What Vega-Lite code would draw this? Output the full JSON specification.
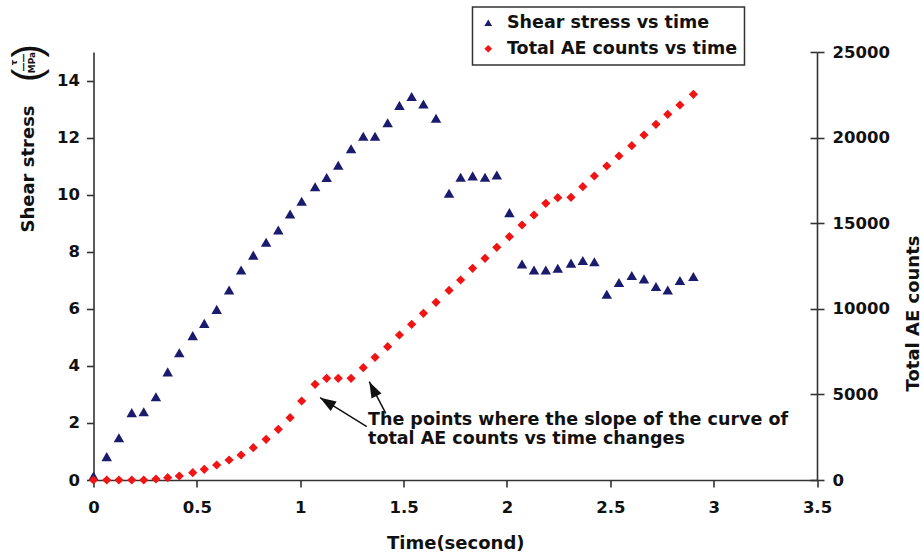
{
  "$schema": "https://vega.github.io/schema/vega-lite/v6.json",
  "width": 723.5,
  "height": 428,
  "autosize": {"type": "none"},
  "padding": {"left": 93.5, "top": 52, "right": 105, "bottom": 78},
  "background": "white",
  "config": {
    "view": {"stroke": null},
    "font": "DejaVu Sans",
    "axis": {
      "grid": false,
      "domainColor": "#333333",
      "domainWidth": 1.6,
      "tickColor": "#333333",
      "tickWidth": 1.6,
      "tickSize": 7,
      "labelFont": "DejaVu Sans",
      "labelFontWeight": "bold",
      "labelFontSize": 16.5,
      "labelColor": "#111111",
      "labelFlush": false,
      "labelOverlap": false,
      "titleFont": "DejaVu Sans",
      "titleFontWeight": "bold",
      "titleFontSize": 18,
      "titleColor": "#111111"
    },
    "legend": {
      "orient": "none",
      "legendX": 379,
      "legendY": -45,
      "strokeColor": "#333333",
      "strokeWidth": 1.5,
      "fillColor": "white",
      "padding": 7,
      "rowPadding": 7,
      "labelFont": "DejaVu Sans",
      "labelFontWeight": "bold",
      "labelFontSize": 17.5,
      "labelColor": "#111111",
      "labelLimit": 0,
      "labelOffset": 10,
      "symbolSize": 60,
      "symbolStrokeWidth": 0
    }
  },
  "datasets": {
    "series": [
      {"t": 0.0, "stress": 0.14, "ae": 0},
      {"t": 0.064, "stress": 0.82, "ae": 0},
      {"t": 0.123, "stress": 1.48, "ae": 0},
      {"t": 0.185, "stress": 2.36, "ae": 0},
      {"t": 0.243, "stress": 2.39, "ae": 0},
      {"t": 0.302, "stress": 2.92, "ae": 58},
      {"t": 0.359, "stress": 3.79, "ae": 136},
      {"t": 0.415, "stress": 4.46, "ae": 234},
      {"t": 0.48, "stress": 5.06, "ae": 428},
      {"t": 0.536, "stress": 5.49, "ae": 623},
      {"t": 0.596, "stress": 5.98, "ae": 876},
      {"t": 0.656, "stress": 6.66, "ae": 1168},
      {"t": 0.714, "stress": 7.36, "ae": 1460},
      {"t": 0.773, "stress": 7.88, "ae": 1889},
      {"t": 0.835, "stress": 8.33, "ae": 2375},
      {"t": 0.894, "stress": 8.76, "ae": 2959},
      {"t": 0.951, "stress": 9.32, "ae": 3641},
      {"t": 1.007, "stress": 9.77, "ae": 4614},
      {"t": 1.072, "stress": 10.28, "ae": 5588},
      {"t": 1.128, "stress": 10.6, "ae": 5938},
      {"t": 1.184, "stress": 11.03, "ae": 5938},
      {"t": 1.246, "stress": 11.61, "ae": 5938},
      {"t": 1.305, "stress": 12.05, "ae": 6561},
      {"t": 1.362, "stress": 12.05, "ae": 7167},
      {"t": 1.423, "stress": 12.52, "ae": 7787},
      {"t": 1.48, "stress": 13.13, "ae": 8470},
      {"t": 1.539, "stress": 13.44, "ae": 9092},
      {"t": 1.596, "stress": 13.18, "ae": 9734},
      {"t": 1.657, "stress": 12.68, "ae": 10380},
      {"t": 1.72, "stress": 10.05, "ae": 11070},
      {"t": 1.776, "stress": 10.61, "ae": 11682},
      {"t": 1.834, "stress": 10.66, "ae": 12365},
      {"t": 1.894, "stress": 10.61, "ae": 12949},
      {"t": 1.951, "stress": 10.69, "ae": 13592},
      {"t": 2.012, "stress": 9.37, "ae": 14212},
      {"t": 2.073, "stress": 7.57, "ae": 14895},
      {"t": 2.131, "stress": 7.36, "ae": 15479},
      {"t": 2.188, "stress": 7.36, "ae": 16162},
      {"t": 2.246, "stress": 7.42, "ae": 16490},
      {"t": 2.31, "stress": 7.6, "ae": 16513},
      {"t": 2.367, "stress": 7.69, "ae": 17132},
      {"t": 2.423, "stress": 7.65, "ae": 17757},
      {"t": 2.483, "stress": 6.51, "ae": 18341},
      {"t": 2.542, "stress": 6.92, "ae": 18925},
      {"t": 2.604, "stress": 7.17, "ae": 19527},
      {"t": 2.663, "stress": 7.05, "ae": 20151},
      {"t": 2.721, "stress": 6.78, "ae": 20777},
      {"t": 2.778, "stress": 6.66, "ae": 21361},
      {"t": 2.837, "stress": 6.99, "ae": 21904},
      {"t": 2.902, "stress": 7.13, "ae": 22529}
    ],
    "arrows": [
      {"id": 1, "t": 1.322, "ae": 3113, "t2": 1.096, "ae2": 4807},
      {"id": 2, "t": 1.414, "ae": 3896, "t2": 1.334, "ae2": 5742}
    ],
    "note": [
      {"t": 1.328, "ae": 3213, "label": ["The points where the slope of the curve of", "total AE counts vs time changes"]}
    ]
  },
  "layer": [
    {
      "data": {"name": "series"},
      "mark": {"type": "point", "filled": true, "opacity": 1, "size": 110, "strokeWidth": 0},
      "encoding": {
        "x": {
          "field": "t", "type": "quantitative",
          "scale": {"domain": [0, 3.5], "nice": false, "zero": false},
          "axis": {
            "values": [0, 0.5, 1, 1.5, 2, 2.5, 3, 3.5],
            "format": "~g",
            "labelPadding": 12,
            "title": "Time(second)",
            "titleY": 68,
            "titleBaseline": "alphabetic"
          }
        },
        "y": {
          "field": "stress", "type": "quantitative",
          "scale": {"domain": [0, 15], "nice": false},
          "axis": {
            "orient": "left",
            "values": [0, 2, 4, 6, 8, 10, 12, 14],
            "labelPadding": 7,
            "title": "Shear stress",
            "titleAngle": 270,
            "titleX": -60,
            "titleY": 116.5,
            "titleAlign": "center",
            "titleBaseline": "alphabetic"
          }
        },
        "color": {
          "datum": "Shear stress vs time",
          "scale": {"domain": ["Shear stress vs time", "Total AE counts vs time"], "range": ["#1b1b6e", "#f01414"]},
          "legend": {"title": null}
        },
        "shape": {
          "datum": "Shear stress vs time",
          "scale": {"domain": ["Shear stress vs time", "Total AE counts vs time"], "range": ["triangle-up", "diamond"]},
          "legend": {"title": null}
        }
      }
    },
    {
      "data": {"name": "series"},
      "mark": {"type": "point", "filled": true, "opacity": 1, "size": 85, "strokeWidth": 0},
      "encoding": {
        "x": {
          "field": "t", "type": "quantitative",
          "scale": {"domain": [0, 3.5], "nice": false, "zero": false},
          "axis": {
            "values": [0, 0.5, 1, 1.5, 2, 2.5, 3, 3.5],
            "format": "~g",
            "labelPadding": 12,
            "title": "Time(second)",
            "titleY": 68,
            "titleBaseline": "alphabetic"
          }
        },
        "y": {
          "field": "ae", "type": "quantitative",
          "scale": {"domain": [0, 25000], "nice": false},
          "axis": {
            "orient": "right",
            "values": [0, 5000, 10000, 15000, 20000, 25000],
            "format": "d",
            "labelPadding": 8,
            "title": "Total AE counts",
            "titleAngle": 270,
            "titleX": 101,
            "titleY": 261,
            "titleAlign": "center",
            "titleBaseline": "alphabetic"
          }
        },
        "color": {"datum": "Total AE counts vs time"},
        "shape": {"datum": "Total AE counts vs time"}
      }
    },
    {
      "data": {"name": "arrows"},
      "mark": {"type": "rule", "color": "#111111", "strokeWidth": 1.5},
      "encoding": {
        "x": {
          "field": "t", "type": "quantitative",
          "scale": {"domain": [0, 3.5], "nice": false, "zero": false},
          "axis": {
            "values": [0, 0.5, 1, 1.5, 2, 2.5, 3, 3.5],
            "format": "~g",
            "labelPadding": 12,
            "title": "Time(second)",
            "titleY": 68,
            "titleBaseline": "alphabetic"
          }
        },
        "x2": {"field": "t2"},
        "y": {
          "field": "ae", "type": "quantitative",
          "scale": {"domain": [0, 25000], "nice": false},
          "axis": {
            "orient": "left",
            "domain": false, "ticks": false, "labels": false,
            "title": ["τ", "——", "MPa"],
            "titleFontSize": 9,
            "titleLineHeight": 9,
            "titleAngle": 270,
            "titleX": -77.5,
            "titleY": 10,
            "titleAlign": "center",
            "titleBaseline": "alphabetic"
          }
        },
        "y2": {"field": "ae2"}
      }
    },
    {
      "data": {"name": "arrows"},
      "transform": [{"filter": "datum.id == 1"}],
      "mark": {"type": "point", "shape": "M0,0L-0.7,2L0.7,2Z", "filled": true, "opacity": 1, "color": "#111111", "size": 256, "angle": 302, "strokeWidth": 0},
      "encoding": {
        "x": {
          "field": "t2", "type": "quantitative",
          "scale": {"domain": [0, 3.5], "nice": false, "zero": false},
          "axis": {
            "values": [0, 0.5, 1, 1.5, 2, 2.5, 3, 3.5],
            "format": "~g",
            "labelPadding": 12,
            "title": "Time(second)",
            "titleY": 68,
            "titleBaseline": "alphabetic"
          }
        },
        "y": {
          "field": "ae2", "type": "quantitative",
          "scale": {"domain": [0, 25000], "nice": false},
          "axis": {
            "orient": "left",
            "domain": false, "ticks": false, "labels": false,
            "title": "(    )",
            "titleFont": "Liberation Sans",
            "titleFontWeight": "normal",
            "titleFontSize": 40,
            "titleAngle": 270,
            "titleX": -53,
            "titleY": 10.5,
            "titleAlign": "center",
            "titleBaseline": "alphabetic"
          }
        }
      }
    },
    {
      "data": {"name": "arrows"},
      "transform": [{"filter": "datum.id == 2"}],
      "mark": {"type": "point", "shape": "M0,0L-0.7,2L0.7,2Z", "filled": true, "opacity": 1, "color": "#111111", "size": 256, "angle": 333, "strokeWidth": 0},
      "encoding": {
        "x": {
          "field": "t2", "type": "quantitative",
          "scale": {"domain": [0, 3.5], "nice": false, "zero": false},
          "axis": {
            "values": [0, 0.5, 1, 1.5, 2, 2.5, 3, 3.5],
            "format": "~g",
            "labelPadding": 12,
            "title": "Time(second)",
            "titleY": 68,
            "titleBaseline": "alphabetic"
          }
        },
        "y": {"field": "ae2", "type": "quantitative", "scale": {"domain": [0, 25000], "nice": false}, "axis": null}
      }
    },
    {
      "data": {"name": "note"},
      "mark": {"type": "text", "align": "left", "baseline": "alphabetic", "font": "DejaVu Sans", "fontWeight": "bold", "fontSize": 17.5, "lineHeight": 19, "color": "#111111"},
      "encoding": {
        "x": {
          "field": "t", "type": "quantitative",
          "scale": {"domain": [0, 3.5], "nice": false, "zero": false},
          "axis": {
            "values": [0, 0.5, 1, 1.5, 2, 2.5, 3, 3.5],
            "format": "~g",
            "labelPadding": 12,
            "title": "Time(second)",
            "titleY": 68,
            "titleBaseline": "alphabetic"
          }
        },
        "y": {
          "field": "ae", "type": "quantitative",
          "scale": {"domain": [0, 25000], "nice": false},
          "axis": {
            "orient": "right",
            "values": [0, 5000, 10000, 15000, 20000, 25000],
            "domain": false,
            "labels": false,
            "tickSize": -7,
            "title": null
          }
        },
        "text": {"field": "label"}
      }
    }
  ],
  "resolve": {"scale": {"y": "independent"}}
}
